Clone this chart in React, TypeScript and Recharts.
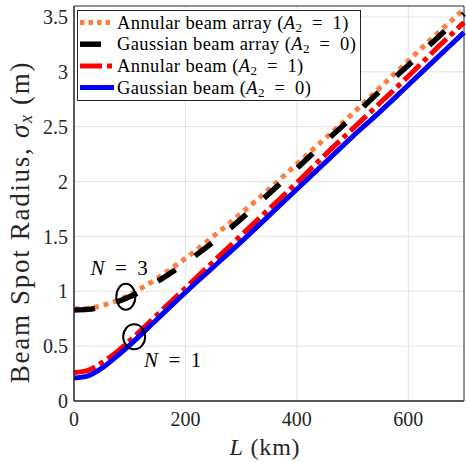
import React from "react";
import {
  LineChart,
  Line,
  XAxis,
  YAxis,
  CartesianGrid,
  Legend,
  ReferenceArea,
  ReferenceDot,
} from "recharts";

// --- data ---
const distanceKm = [0, 25, 50, 75, 100, 150, 200, 250, 300, 350, 400, 450, 500, 550, 600, 650, 700];
const annularArray = [0.84, 0.845, 0.87, 0.91, 0.97, 1.12, 1.3, 1.5, 1.71, 1.93, 2.16, 2.39, 2.62, 2.86, 3.1, 3.34, 3.57];
const gaussianArray = [0.83, 0.835, 0.86, 0.9, 0.95, 1.09, 1.26, 1.45, 1.66, 1.89, 2.12, 2.36, 2.59, 2.83, 3.06, 3.3, 3.53];
const annularBeam = [0.26, 0.28, 0.35, 0.44, 0.55, 0.79, 1.03, 1.27, 1.51, 1.75, 1.99, 2.24, 2.48, 2.72, 2.96, 3.21, 3.45];
const gaussianBeam = [0.21, 0.23, 0.3, 0.4, 0.51, 0.75, 0.99, 1.22, 1.45, 1.69, 1.93, 2.17, 2.41, 2.64, 2.88, 3.12, 3.36];

const xTicks = [0, 200, 400, 600];
const yTicks = [0, 0.5, 1, 1.5, 2, 2.5, 3, 3.5];

const data = distanceKm.map((L, i) => ({
  L,
  annularArray: annularArray[i],
  gaussianArray: gaussianArray[i],
  annularBeam: annularBeam[i],
  gaussianBeam: gaussianBeam[i],
}));

const FONT = "'Liberation Serif', 'DejaVu Serif', serif";
const INK = "#262626";

const series = [
  { key: "annularArray", label: "Annular beam array", a2: "1", color: "#ff7f40", dash: "5 5", legendDash: "4.5 4", width: 5 },
  { key: "gaussianArray", label: "Gaussian beam array", a2: "0", color: "#000000", dash: "21 24", legendDash: "21 24", width: 5.5 },
  { key: "annularBeam", label: "Annular beam", a2: "1", color: "#ff0000", dash: "22 5 5 5", legendDash: "22 5 5 5", width: 5 },
  { key: "gaussianBeam", label: "Gaussian beam", a2: "0", color: "#0000ff", dash: undefined, legendDash: undefined, width: 5 },
];

// legend drawn as its own small svg so the frame always shows
const LegendBox = () => (
  <svg width={284} height={91} style={{ display: "block" }}>
    <rect x={0.5} y={0.5} width={283} height={90} fill="#ffffff" stroke={INK} strokeWidth={1} />
    {series.map((s, i) => {
      const cy = 12.5 + i * 21.7;
      return (
        <g key={s.key}>
          <line x1={3} y1={cy} x2={37} y2={cy} stroke={s.color} strokeWidth={s.width} strokeDasharray={s.legendDash} />
          <text
            x={40}
            y={cy}
            dominantBaseline="central"
            fontFamily={FONT}
            fontSize={18.5}
            letterSpacing={0.4}
            fill="#000"
          >
            {s.label} (<tspan fontStyle="italic">A</tspan>
            <tspan fontSize={13} dy={4}>2</tspan>
            <tspan dy={-4}>{"\u2002=\u2002"}{s.a2})</tspan>
          </text>
        </g>
      );
    })}
  </svg>
);

const YTitle = ({ viewBox }: any) => {
  const cx = viewBox.x + 20;
  const cy = 222;
  return (
    <text
      x={cx}
      y={cy}
      transform={`rotate(-90 ${cx} ${cy})`}
      textAnchor="middle"
      dominantBaseline="central"
      fontFamily={FONT}
      fontSize={27}
      letterSpacing={1.7}
      fill={INK}
    >
      Beam Spot Radius, <tspan fontStyle="italic">σ</tspan>
      <tspan fontStyle="italic" fontSize={18} dy={6}>x</tspan>
      <tspan dy={-6}> (m)</tspan>
    </text>
  );
};

const XTitle = ({ viewBox }: any) => (
  <text
    x={viewBox.x + viewBox.width / 2 - 4}
    y={viewBox.y + 54}
    textAnchor="middle"
    fontFamily={FONT}
    fontSize={24}
    letterSpacing={0.8}
    fill={INK}
  >
    <tspan fontStyle="italic">L</tspan> (km)
  </text>
);

const ellipseShape = (rx: number, ry: number) => (props: any) => (
  <ellipse cx={props.cx} cy={props.cy} rx={rx} ry={ry} fill="none" stroke="#000" strokeWidth={2} />
);

const noteShape = (n: string) => (props: any) => (
  <text x={props.cx} y={props.cy} textAnchor="middle" dominantBaseline="central" fontFamily={FONT} fontSize={21} fill="#000">
    <tspan fontStyle="italic">N</tspan>
    {"\u2002=\u2002"}
    {n}
  </text>
);

export default function App() {
  return (
    <div style={{ position: "absolute", left: 0, top: 0, background: "#fff" }}>
      <LineChart width={466} height={462} data={data} margin={{ top: 6, right: 2, left: 0, bottom: 0 }}>
        <CartesianGrid stroke="#e3e3e3" strokeWidth={1} horizontalValues={yTicks} verticalValues={xTicks} />
        <XAxis
          dataKey="L"
          type="number"
          domain={[0, 700]}
          ticks={xTicks}
          height={61}
          tickSize={0}
          tickMargin={11}
          tickLine={false}
          axisLine={{ stroke: INK }}
          tick={{ fill: INK, fontSize: 20, fontFamily: FONT }}
          label={(p: any) => <XTitle {...p} />}
        />
        <YAxis
          type="number"
          domain={[0, 3.6]}
          ticks={yTicks}
          width={74}
          tickSize={0}
          tickMargin={6}
          tickLine={false}
          axisLine={{ stroke: INK }}
          tick={{ fill: INK, fontSize: 20, fontFamily: FONT }}
          label={(p: any) => <YTitle {...p} />}
        />
        <ReferenceArea x1={0} x2={700} y1={0} y2={3.6} fill="none" stroke={INK} strokeWidth={1} ifOverflow="visible" />
        {series.map((s) => (
          <Line
            key={s.key}
            type="monotone"
            dataKey={s.key}
            name={s.label}
            stroke={s.color}
            strokeWidth={s.width}
            strokeDasharray={s.dash}
            dot={false}
            activeDot={false}
            isAnimationActive={false}
          />
        ))}
        <ReferenceDot x={93} y={0.95} shape={ellipseShape(9.5, 13)} ifOverflow="visible" />
        <ReferenceDot x={108} y={0.585} shape={ellipseShape(11, 12.5)} ifOverflow="visible" />
        <ReferenceDot x={81} y={1.21} shape={noteShape("3")} ifOverflow="visible" />
        <ReferenceDot x={177} y={0.37} shape={noteShape("1")} ifOverflow="visible" />
        <Legend
          layout="vertical"
          align="center"
          verticalAlign="middle"
          wrapperStyle={{ top: 10, left: 77, width: 284, height: 91, zIndex: 5 }}
          content={() => <LegendBox />}
        />
      </LineChart>
    </div>
  );
}
